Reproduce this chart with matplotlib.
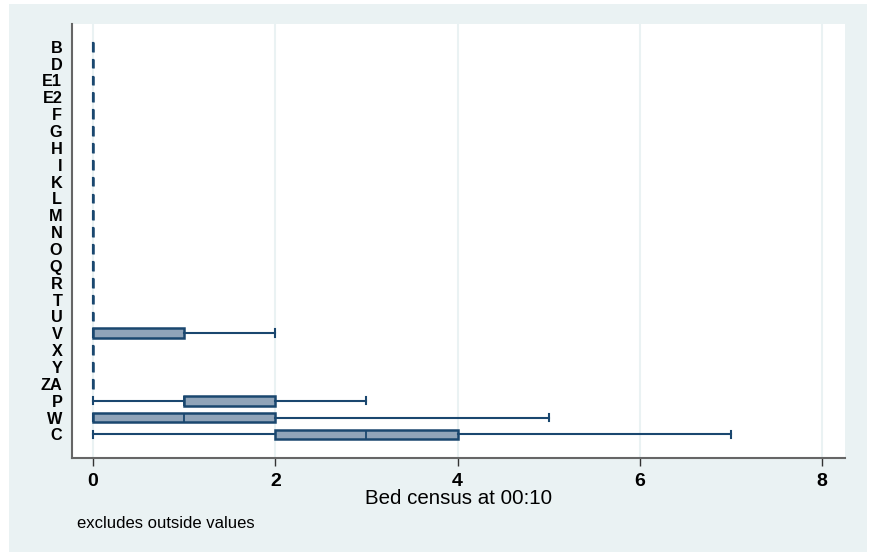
import matplotlib.pyplot as plt
from matplotlib.patches import Rectangle

# categories from top to bottom
wards = ['B', 'D', 'E1', 'E2', 'F', 'G', 'H', 'I', 'K', 'L', 'M', 'N', 'O',
         'Q', 'R', 'T', 'U', 'V', 'X', 'Y', 'ZA', 'P', 'W', 'C']
# box statistics (excluding outside values)
whislo = [0] * 17 + [0, 0, 0, 0, 0, 0, 0]
q1     = [0] * 17 + [0, 0, 0, 0, 1, 0, 2]
med    = [0] * 17 + [0, 0, 0, 0, 1, 1, 3]
q3     = [0] * 17 + [1, 0, 0, 0, 2, 2, 4]
whishi = [0] * 17 + [2, 0, 0, 0, 3, 5, 7]
xticks = [0, 2, 4, 6, 8]

navy = '#1a476f'
fill = '#90a4b9'
bg = '#eaf2f3'

fig = plt.figure(figsize=(8.69, 5.53), dpi=100, facecolor='white')
fig.patches.append(Rectangle((9 / 869, 1 / 553), 858 / 869, 548 / 553,
                             transform=fig.transFigure, facecolor=bg,
                             edgecolor='none', zorder=-10))
ax = fig.add_axes([72 / 869, 95 / 553, 773 / 869, 434 / 553])
ax.set_facecolor('white')

stats = []
for i in range(len(wards)):
    stats.append({'whislo': whislo[i], 'q1': q1[i], 'med': med[i],
                  'q3': q3[i], 'whishi': whishi[i], 'label': wards[i]})
pos = list(range(len(wards)))[::-1]

ax.bxp(stats, positions=pos, vert=False, widths=0.58, patch_artist=True,
       showfliers=False, manage_ticks=False,
       boxprops=dict(facecolor=fill, edgecolor=navy, linewidth=1.8),
       medianprops=dict(color=navy, linewidth=1.3),
       whiskerprops=dict(color=navy, linewidth=1.5),
       capprops=dict(color=navy, linewidth=1.5), capwidths=0.45)

ax.set_yticks(pos)
ax.set_yticklabels(wards, fontsize=11.7, fontweight='bold', family='Liberation Sans')
ax.tick_params(axis='y', length=0, pad=7)
ax.set_xticks(xticks)
ax.set_xticklabels([str(t) for t in xticks], fontsize=14, fontweight='bold',
                   family='Liberation Sans')
ax.tick_params(axis='x', length=6, width=1, color='#333333', pad=5)
ax.set_xlim(-0.23, 8.25)
ax.set_ylim(-1.4, len(wards) - 1 + 1.35)
ax.xaxis.grid(True, color=bg, linewidth=1.5)
ax.set_axisbelow(True)

for s in ['top', 'right']:
    ax.spines[s].set_visible(False)
for s in ['left', 'bottom']:
    ax.spines[s].set_color('#666666')
    ax.spines[s].set_linewidth(1.5)

ax.set_xlabel('Bed census at 00:10', fontsize=14.8, family='Liberation Sans',
              labelpad=-1)
fig.text(77 / 869, 1 - 523 / 553, 'excludes outside values', fontsize=12,
         family='Liberation Sans', va='center')

fig.savefig('out.png', dpi=100, facecolor='white')
